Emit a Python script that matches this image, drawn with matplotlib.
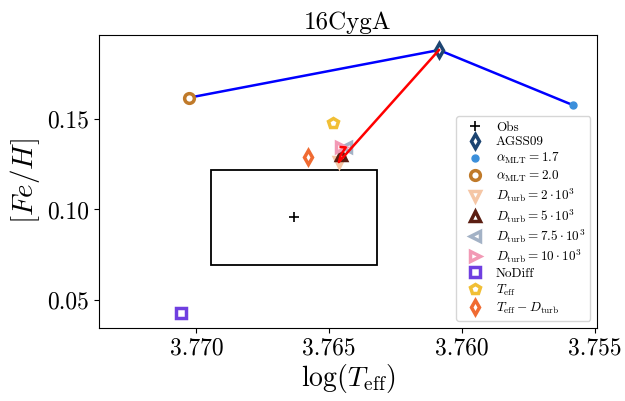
import matplotlib
matplotlib.use('Agg')
import matplotlib.pyplot as plt
from matplotlib.patches import Rectangle

plt.rcParams['font.family'] = 'serif'
plt.rcParams['font.serif'] = ['cmr10']
plt.rcParams['mathtext.fontset'] = 'cm'
plt.rcParams['axes.formatter.use_mathtext'] = True

# observation with uncertainty box
obs_teff, obs_feh = 3.76634, 0.0958
obs_dteff, obs_dfeh = 0.00313, 0.0262

# models: label, log Teff, [Fe/H]
labels = ['AGSS09', r'$\alpha_{\rm MLT}=1.7$', r'$\alpha_{\rm MLT}=2.0$',
          r'$D_{\rm turb}=2\cdot10^3$', r'$D_{\rm turb}=5\cdot10^3$',
          r'$D_{\rm turb}=7.5\cdot10^3$', r'$D_{\rm turb}=10\cdot10^3$',
          'NoDiff', r'$T_{\rm eff}$', r'$T_{\rm eff}-D_{\rm turb}$']
logteff = [3.76087, 3.75583, 3.77027, 3.76464, 3.76457, 3.76438, 3.76457,
           3.77059, 3.76486, 3.76579]
feh = [0.1881, 0.1577, 0.1618, 0.1262, 0.1300, 0.1343, 0.1345,
       0.0430, 0.1480, 0.1289]
markers = ['d', 'o', 'o', 'v', '^', '<', '>', 's', 'p', 'd']
colors = ['#1d4572', '#3b8fdb', '#c07a2a', '#f5c6a5', '#5b1e12', '#a3b2c6',
          '#f299b5', '#6f3fe0', '#f1bf35', '#f06b32']

fig = plt.figure(figsize=(6.25, 4.01), dpi=100)
ax = fig.add_axes([0.1584, 0.1828, 0.7968, 0.7299])

# lines: alpha_MLT sequence and D_turb sequence through AGSS09
ax.plot([logteff[2], logteff[0], logteff[1]], [feh[2], feh[0], feh[1]],
        color='blue', lw=1.8, zorder=2)
ax.plot([logteff[0], logteff[3], logteff[4], logteff[5], logteff[6]],
        [feh[0], feh[3], feh[4], feh[5], feh[6]],
        color='red', lw=1.8, zorder=4)

ax.add_patch(Rectangle((obs_teff - obs_dteff, obs_feh - obs_dfeh),
                       2 * obs_dteff, 2 * obs_dfeh, fill=False,
                       edgecolor='black', lw=1.3))
ax.plot(obs_teff, obs_feh, '+', color='black', ms=7, mew=1.2, label='Obs',
        linestyle='none')

for i in range(len(labels)):
    if i == 1:
        ax.plot(logteff[i], feh[i], marker='o', color=colors[i], ms=5,
                linestyle='none', label=labels[i], zorder=3)
    else:
        ax.plot(logteff[i], feh[i], marker=markers[i], mfc='white',
                mec=colors[i], mew=2.5, ms=7, linestyle='none',
                label=labels[i], zorder=3)

ax.set_xlim(3.77367, 3.75492)
ax.set_ylim(0.0347, 0.1964)
ax.set_xticks([3.770, 3.765, 3.760, 3.755])
ax.set_xticklabels(['3.770', '3.765', '3.760', '3.755'])
ax.set_yticks([0.05, 0.10, 0.15])
ax.set_yticklabels(['0.05', '0.10', '0.15'])
ax.tick_params(labelsize=17)

ax.set_xlabel(r'$\log(T_{\rm eff})$', fontsize=20, labelpad=2)
ax.set_ylabel(r'$[Fe/H]$', fontsize=21)
ax.set_title('16CygA', fontsize=18, pad=4)

ax.legend(loc='lower right', fontsize=9.5, handletextpad=0.6,
          labelspacing=0.2, borderpad=0.4)

fig.savefig('out.png', dpi=100)
